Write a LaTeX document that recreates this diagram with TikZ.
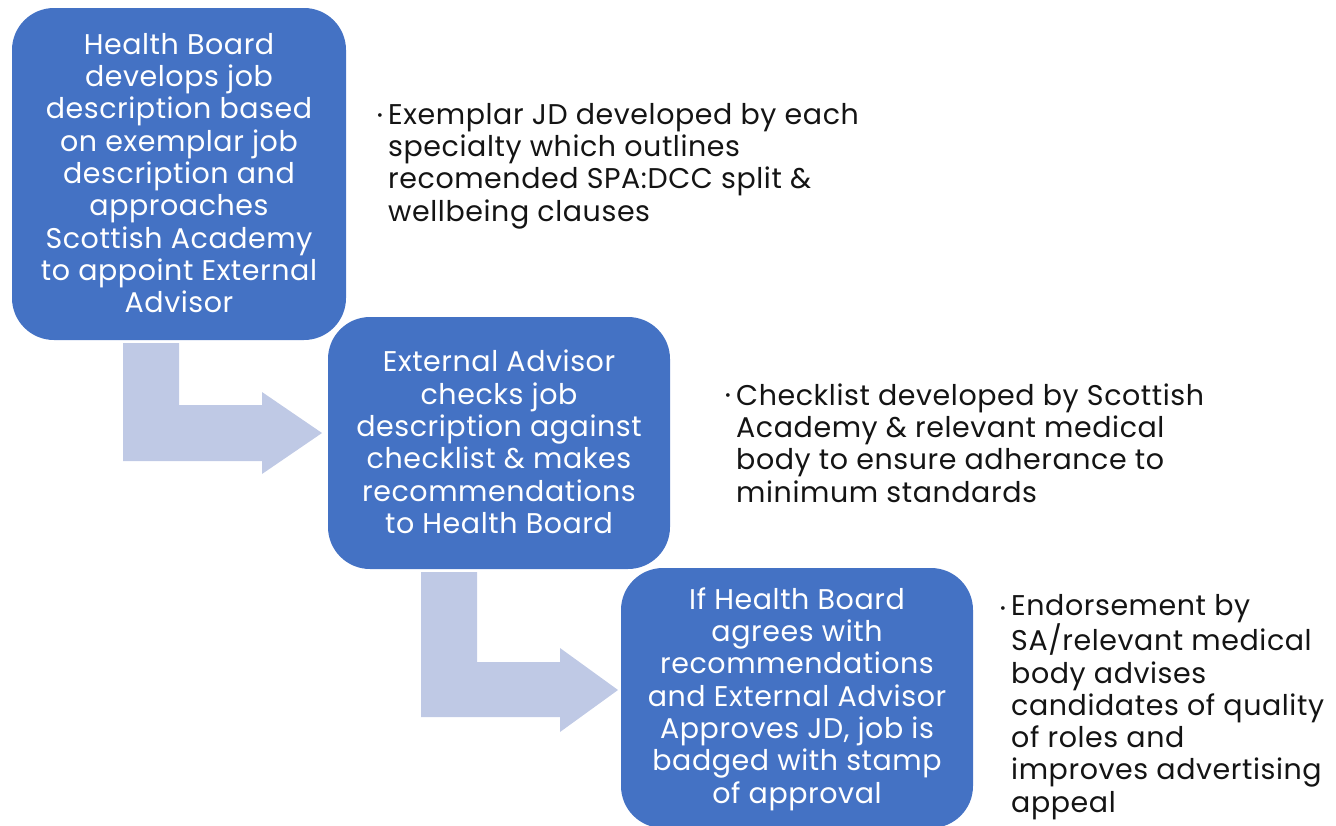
\documentclass[tikz,border=0pt]{standalone}
\usepackage{fontspec}
\setmainfont[LetterSpace=2]{Poppins}
\begin{document}
\begin{tikzpicture}[x=1pt,y=-1pt,
  stepbox/.style={fill=boxblue, rounded corners=42pt},
  boxtext/.style={text=white, align=center, inner sep=0pt,
    font=\fontsize{28.5}{32.3}\selectfont},
  notetext/.style={text=notegray, align=left, inner sep=0pt, anchor=west,
    font=\fontsize{28.5}{32.3}\selectfont},
  bulletdot/.style={text=notegray, inner sep=0pt,
    font=\fontsize{15}{15}\selectfont},
  bentarrow/.style={fill=arrowblue}]
\definecolor{boxblue}{HTML}{4472C4}
\definecolor{arrowblue}{HTML}{BFC9E5}
\definecolor{notegray}{HTML}{141414}
\useasboundingbox (0,0) rectangle (1336,825);
\begin{scope}
\clip (0,0) rectangle (1336,825);

% process boxes
\fill[stepbox] (12,8) rectangle (346,340);
\fill[stepbox] (328,317) rectangle (670,569);
\fill[stepbox] (621,568) rectangle (973,828);

% bent arrows between the steps
\fill[bentarrow] (123,343) -- (179,343) -- (179,405) -- (262,405) -- (262,392)
  -- (322,433) -- (262,474) -- (262,461) -- (123,461) -- cycle;
\fill[bentarrow] (421,572) -- (477,572) -- (477,662) -- (560,662) -- (560,648)
  -- (618,690) -- (560,732) -- (560,717) -- (421,717) -- cycle;
\end{scope}

% box captions
\node[boxtext] (s1) at (179,173) {Health Board\\develops job\\description based\\on exemplar job\\description and\\approaches\\Scottish Academy\\to appoint External\\Advisor};
\node[boxtext] (s2) at (499,442) {External Advisor\\checks job\\description against\\checklist \& makes\\recommendations\\to Health Board};
\node[boxtext] (s3) at (797,699) {If Health Board\\agrees with\\recommendations\\and External Advisor\\Approves JD, job is\\badged with stamp\\of approval};

% side notes
\node[notetext] (n1) at (388,166) {Exemplar JD developed by each\\specialty which outlines\\recomended SPA:DCC split \&\\wellbeing clauses};
\node[bulletdot] (b1) at (380,117) {•};
\node[notetext] (n2) at (736,443) {Checklist developed by Scottish\\Academy \& relevant medical\\body to ensure adherance to\\minimum standards};
\node[bulletdot] (b2) at (728,397) {•};
\node[notetext] (n3) at (1011,707) {Endorsement by\\SA/relevant medical\\body advises\\candidates of quality\\of roles and\\improves advertising\\appeal};
\node[bulletdot] (b3) at (1003,610) {•};
\end{tikzpicture}
\end{document}
